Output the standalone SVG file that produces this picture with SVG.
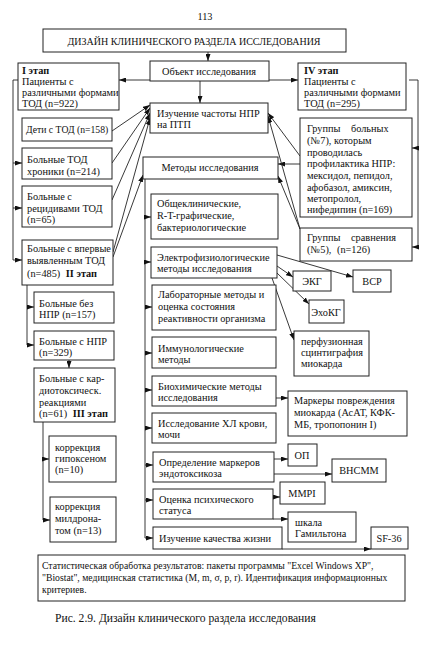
<svg xmlns="http://www.w3.org/2000/svg" width="435" height="650" viewBox="0 0 435 650" font-family="'Liberation Serif', 'DejaVu Serif', serif">
<defs>
<marker id="a" viewBox="0 0 7 5" refX="7" refY="2.5" markerWidth="7" markerHeight="5" markerUnits="userSpaceOnUse" orient="auto"><path d="M0,0 L7,2.5 L0,5 z" fill="#111"/></marker>
<style>
rect{fill:#fff;stroke:#222;stroke-width:1}
text{font-family:'Liberation Serif','DejaVu Serif',serif;font-size:10.3px;fill:#111}
.c{text-anchor:middle}
.b{font-weight:bold}
.s{font-size:10px}
.t{font-size:9.7px}
#connectors line,#connectors polyline{stroke:#222;stroke-width:0.9;fill:none}
.m{marker-end:url(#a)}
</style>
</defs>
<rect x="0" y="0" width="435" height="650" style="fill:#fff;stroke:none"/>
<text x="205" y="20" class="c">113</text>
<text x="55" y="622" style="font-size:11.6px">Рис. 2.9. Дизайн клинического раздела исследования</text>

<g id="connectors">
<line class="m" x1="208" y1="52" x2="208" y2="61"/>
<line class="m" x1="150" y1="80" x2="119" y2="80"/>
<line class="m" x1="269" y1="80" x2="298" y2="80"/>
<line class="m" x1="200" y1="81" x2="200" y2="103"/>
<polyline points="18,80 13,80 13,260"/>
<line class="m" x1="13" y1="163" x2="22" y2="163"/>
<line class="m" x1="13" y1="208" x2="22" y2="208"/>
<line class="m" x1="13" y1="260" x2="22" y2="260"/>
<line class="m" x1="112" y1="131" x2="150" y2="105"/>
<line class="m" x1="112" y1="163" x2="150" y2="108"/>
<line class="m" x1="112" y1="200" x2="150" y2="113"/>
<line class="m" x1="113" y1="252" x2="150" y2="118"/>
<line class="m" x1="113" y1="257" x2="143" y2="175"/>
<polyline points="409,80 418,80 418,247"/>
<line class="m" x1="418" y1="148" x2="412" y2="148"/>
<line class="m" x1="418" y1="247" x2="412" y2="247"/>
<line class="m" x1="300" y1="156" x2="268" y2="113"/>
<line class="m" x1="300" y1="164" x2="278" y2="164"/>
<line class="m" x1="300" y1="229" x2="268" y2="116"/>
<line class="m" x1="300" y1="229" x2="278" y2="176"/>
<line x1="145" y1="179" x2="145" y2="538"/>
<line class="m" x1="145" y1="217" x2="151" y2="217"/>
<line class="m" x1="145" y1="262" x2="151" y2="262"/>
<line class="m" x1="145" y1="307" x2="152" y2="307"/>
<line class="m" x1="145" y1="353" x2="152" y2="353"/>
<line class="m" x1="145" y1="390" x2="152" y2="390"/>
<line class="m" x1="145" y1="428" x2="152" y2="428"/>
<line class="m" x1="145" y1="465" x2="153" y2="465"/>
<line class="m" x1="145" y1="500" x2="153" y2="500"/>
<line class="m" x1="145" y1="538" x2="153" y2="538"/>
<line class="m" x1="277" y1="266" x2="293" y2="277"/>
<line class="m" x1="277" y1="255" x2="353" y2="277"/>
<line class="m" x1="277" y1="273" x2="309" y2="304"/>
<line class="m" x1="272" y1="278" x2="294" y2="340"/>
<line class="m" x1="276" y1="398" x2="288" y2="398"/>
<line class="m" x1="274" y1="459" x2="288" y2="459"/>
<line class="m" x1="274" y1="474" x2="332" y2="474"/>
<line class="m" x1="273" y1="497" x2="280" y2="497"/>
<line class="m" x1="273" y1="519" x2="288" y2="519"/>
<line class="m" x1="282" y1="549" x2="371" y2="549"/>
<line x1="27" y1="285" x2="27" y2="345"/>
<line class="m" x1="27" y1="307" x2="34" y2="307"/>
<line class="m" x1="27" y1="345" x2="34" y2="345"/>
<line class="m" x1="69" y1="360" x2="69" y2="368"/>
<line x1="43" y1="422" x2="43" y2="520"/>
<line class="m" x1="43" y1="459" x2="49" y2="459"/>
<line class="m" x1="43" y1="520" x2="50" y2="520"/>
</g>

<g id="title"><rect x="43" y="29" width="303" height="23"/><text x="194" y="45" class="c s">ДИЗАЙН КЛИНИЧЕСКОГО РАЗДЕЛА ИССЛЕДОВАНИЯ</text></g>
<g id="obj"><rect x="150" y="61" width="119" height="20"/><text x="209" y="75" class="c">Объект исследования</text></g>
<g id="stage1"><rect x="18" y="63" width="101" height="47"/>
<text x="22" y="74" class="b">I этап</text><text x="22" y="85">Пациенты с</text><text x="22" y="96">различными формами</text><text x="22" y="107">ТОД (n=922)</text></g>
<g id="stage4"><rect x="298" y="63" width="108" height="47"/>
<text x="304" y="74" class="b">IV этап</text><text x="304" y="85">Пациенты с</text><text x="304" y="96">различными формами</text><text x="304" y="107">ТОД (n=295)</text></g>
<g id="izuch"><rect x="150" y="103" width="118" height="30"/><text x="157" y="117">Изучение частоты НПР</text><text x="157" y="128">на ПТП</text></g>
<g id="deti"><rect x="22" y="118" width="90" height="23"/><text x="26" y="133" class="t">Дети с ТОД (n=158)</text></g>
<g id="chron"><rect x="22" y="148" width="90" height="31"/><text x="27" y="163">Больные ТОД</text><text x="27" y="175">хроники (n=214)</text></g>
<g id="recid"><rect x="22" y="186" width="90" height="41"/><text x="27" y="200">Больные с</text><text x="27" y="212">рецидивами ТОД</text><text x="27" y="223">(n=65)</text></g>
<g id="vpervye"><rect x="22" y="240" width="91" height="45"/><text x="27" y="252">Больные с впервые</text><text x="27" y="264">выявленным ТОД</text><text x="27" y="277">(n=485) <tspan class="b" dx="3">II этап</tspan></text></g>
<g id="bez"><rect x="34" y="292" width="80" height="31"/><text x="39" y="307">Больные без</text><text x="39" y="318">НПР (n=157)</text></g>
<g id="snpr"><rect x="34" y="331" width="80" height="29"/><text x="39" y="345">Больные с НПР</text><text x="39" y="356">(n=329)</text></g>
<g id="kardio"><rect x="34" y="368" width="81" height="54"/><text x="39" y="382">Больные с кар-</text><text x="39" y="394">диотоксическ.</text><text x="39" y="406">реакциями</text><text x="39" y="417">(n=61) <tspan class="b" dx="3">III этап</tspan></text></g>
<g id="gipox"><rect x="49" y="436" width="67" height="46"/><text x="55" y="451">коррекция</text><text x="55" y="462">гипоксеном</text><text x="55" y="473">(n=10)</text></g>
<g id="mildr"><rect x="50" y="497" width="66" height="45"/><text x="55" y="510">коррекция</text><text x="55" y="522">милдрона-</text><text x="55" y="534">том (n=13)</text></g>
<g id="grbol"><rect x="300" y="118" width="112" height="99"/>
<text x="307" y="132" style="word-spacing:8px">Группы больных</text><text x="307" y="144">(№7), которым</text><text x="307" y="156">проводилась</text><text x="307" y="167">профилактика НПР:</text><text x="307" y="179">мексидол, пепидол,</text><text x="307" y="191">афобазол, амиксин,</text><text x="307" y="202">метопролол,</text><text x="307" y="213">нифедипин (n=169)</text></g>
<g id="grsr"><rect x="300" y="228" width="112" height="33"/><text x="307" y="241" style="word-spacing:8px">Группы сравнения</text><text x="307" y="253" style="word-spacing:3px">(№5), (n=126)</text></g>
<g id="metody"><rect x="143" y="157" width="135" height="22"/><text x="210" y="171" class="c">Методы исследования</text></g>
<g id="obsh"><rect x="151" y="194" width="127" height="45"/><text x="157" y="207">Общеклинические,</text><text x="157" y="219">R-T-графические,</text><text x="157" y="231">бактериологические</text></g>
<g id="elektro"><rect x="151" y="247" width="126" height="31"/><text x="157" y="261">Электрофизиологические</text><text x="157" y="272">методы исследования</text></g>
<g id="labor"><rect x="152" y="285" width="124" height="45"/><text x="158" y="298">Лабораторные методы и</text><text x="158" y="310">оценка состояния</text><text x="158" y="322">реактивности организма</text></g>
<g id="immun"><rect x="152" y="337" width="124" height="31"/><text x="158" y="352">Иммунологические</text><text x="158" y="363">методы</text></g>
<g id="biohim"><rect x="152" y="376" width="124" height="30"/><text x="158" y="390">Биохимические методы</text><text x="158" y="401">исследования</text></g>
<g id="hl"><rect x="152" y="413" width="124" height="30"/><text x="158" y="427">Исследование ХЛ крови,</text><text x="158" y="438">мочи</text></g>
<g id="opred"><rect x="153" y="452" width="121" height="30"/><text x="159" y="466">Определение маркеров</text><text x="159" y="477">эндотоксикоза</text></g>
<g id="ocenka"><rect x="153" y="489" width="120" height="30"/><text x="159" y="503">Оценка психического</text><text x="159" y="514">статуса</text></g>
<g id="kach"><rect x="153" y="527" width="129" height="22"/><text x="159" y="542">Изучение качества жизни</text></g>
<g id="ekg"><rect x="293" y="271" width="38" height="20"/><text x="312" y="285" class="c">ЭКГ</text></g>
<g id="vsr"><rect x="353" y="270" width="38" height="22"/><text x="372" y="285" class="c">ВСР</text></g>
<g id="ehokg"><rect x="309" y="300" width="35" height="23"/><text x="326" y="316" class="c">ЭхоКГ</text></g>
<g id="perf"><rect x="294" y="331" width="75" height="45"/><text x="301" y="345">перфузионная</text><text x="301" y="356">сцинтиграфия</text><text x="301" y="367">миокарда</text></g>
<g id="markery"><rect x="288" y="391" width="119" height="45"/><text x="294" y="404">Маркеры повреждения</text><text x="294" y="416">миокарда (АсАТ, КФК-</text><text x="294" y="428">МБ, тропопонин I)</text></g>
<g id="op"><rect x="288" y="444" width="29" height="22"/><text x="302" y="459" class="c">ОП</text></g>
<g id="vnsmm"><rect x="332" y="459" width="54" height="23"/><text x="359" y="474" class="c">ВНСММ</text></g>
<g id="mmpi"><rect x="280" y="482" width="45" height="22"/><text x="302" y="497" class="c">MMPI</text></g>
<g id="gamil"><rect x="288" y="512" width="68" height="30"/><text x="295" y="526">шкала</text><text x="295" y="537">Гамильтона</text></g>
<g id="sf36"><rect x="371" y="527" width="37" height="22"/><text x="389" y="542" class="c">SF-36</text></g>
<g id="stat"><rect x="38" y="555" width="367" height="46"/>
<text x="42" y="569" class="t">Статистическая обработка результатов: пакеты программы "Excel Windows XP",</text>
<text x="42" y="581" class="t">"Biostat", медицинская статистика (M, m, σ, p, r). Идентификация информационных</text>
<text x="42" y="593" class="t">критериев.</text></g>
</svg>
